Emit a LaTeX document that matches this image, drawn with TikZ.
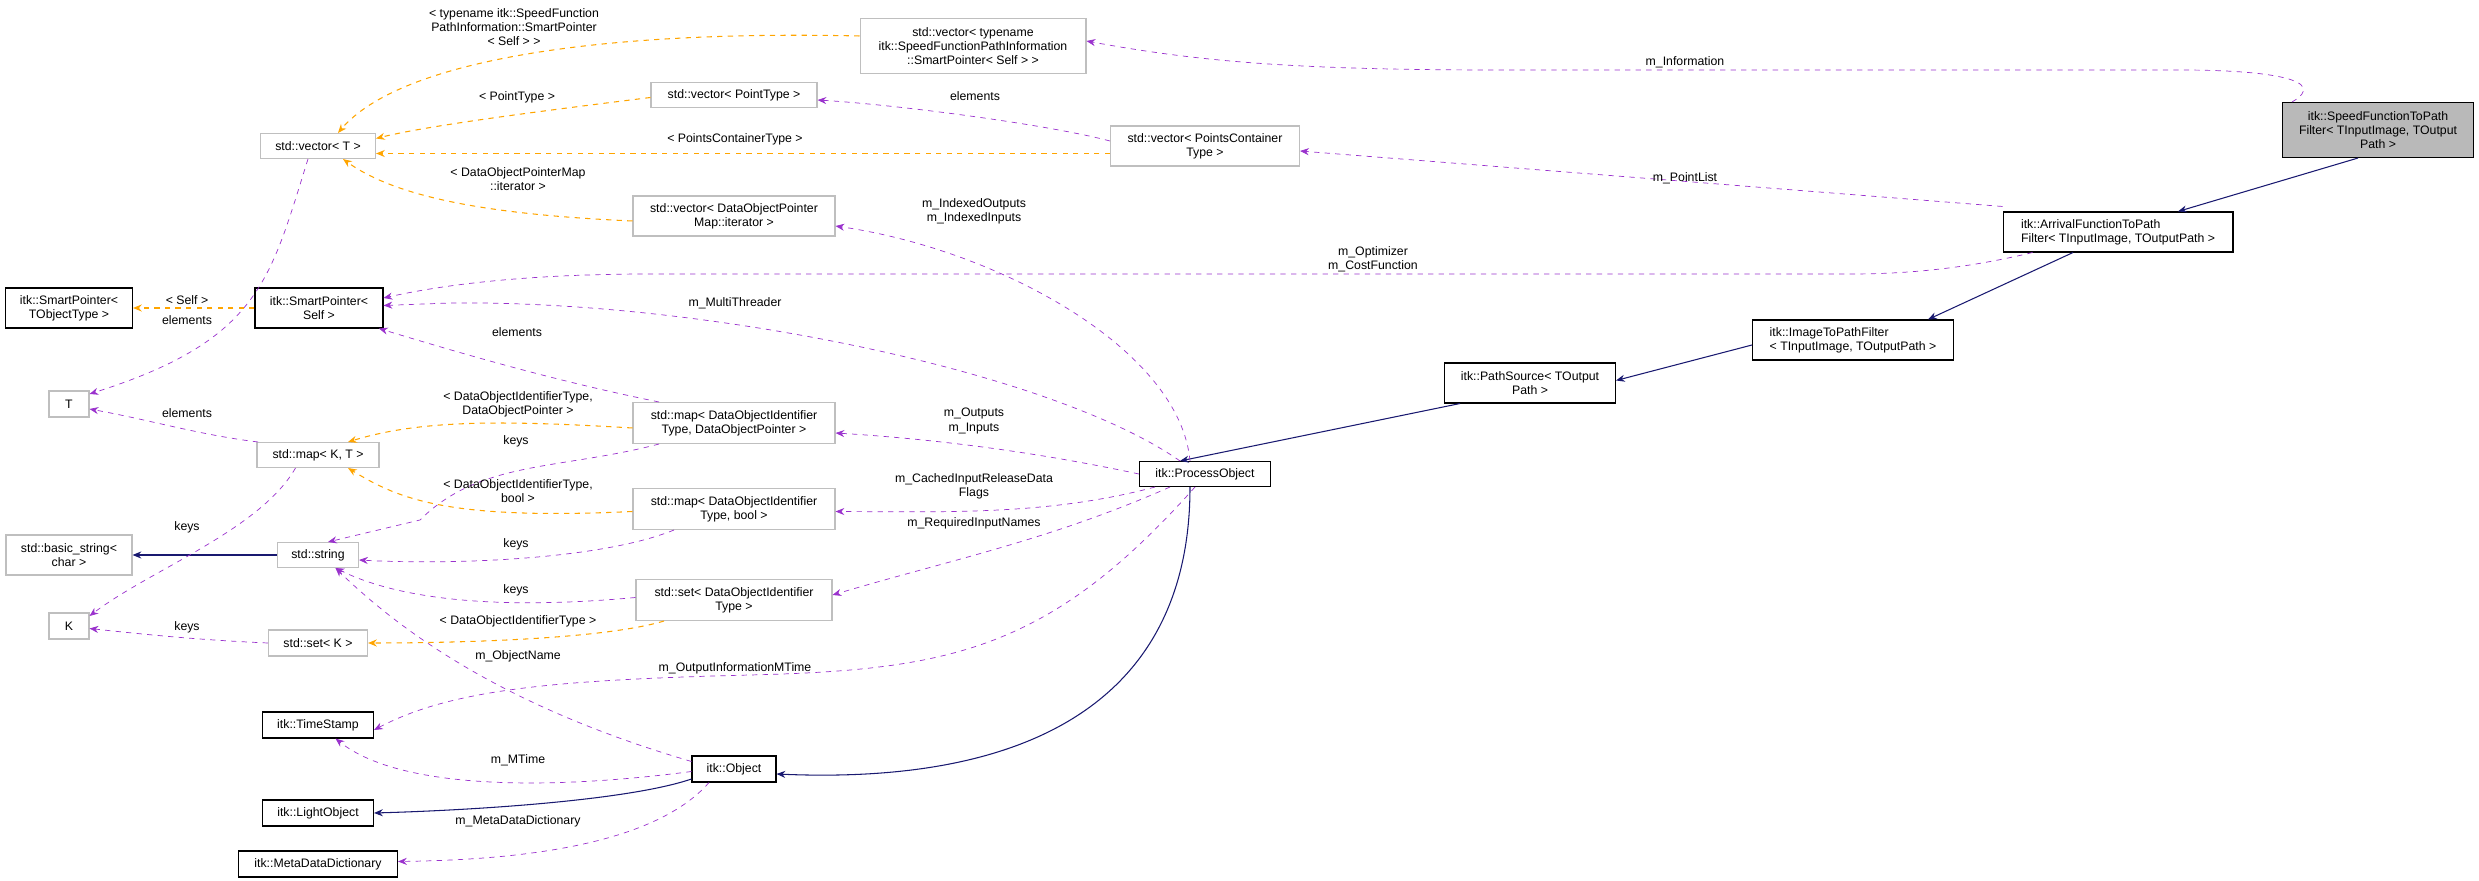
\documentclass[tikz,border=0pt]{standalone}
\usepackage{fontspec}
\setmainfont{Liberation Sans}
\usetikzlibrary{arrows.meta}
\definecolor{pur}{HTML}{9A32CD}
\definecolor{org}{HTML}{FFA500}
\definecolor{nav}{HTML}{191970}
\definecolor{gb}{HTML}{BFBFBF}
\begin{document}
\begin{tikzpicture}[x=0.02cm,y=-0.02cm,
  font=\fontsize{7}{8}\selectfont,
  box/.style={draw=black,line width=0.6pt,fill=white,inner sep=1pt,align=center},
  gbox/.style={draw=gb,line width=0.6pt,fill=white,inner sep=1pt,align=center},
  use/.style={draw=pur,dashed,-{Stealth[length=5pt,width=4pt]},fill=none},
  tpl/.style={draw=org,dashed,line width=0.6pt,-{Stealth[length=5pt,width=4pt]},fill=none},
  inh/.style={draw=nav,line width=0.6pt,-{Stealth[length=5pt,width=4pt]},fill=none},
  lbl/.style={align=center,inner sep=0pt}]
\useasboundingbox (0,0) rectangle (2479,881);
% nodes
\node[box,fill=gray!55,minimum width=3.82cm,minimum height=1.1cm] (speed) at (2378,130) {itk::SpeedFunctionToPath\\Filter< TInputImage, TOutput\\Path >};
\node[box,align=left,minimum width=4.6cm,minimum height=0.8cm] (arr) at (2118,232) {itk::ArrivalFunctionToPath\\Filter< TInputImage, TOutputPath >};
\node[box,align=left,minimum width=4.02cm,minimum height=0.8cm] (itp) at (1853,340) {itk::ImageToPathFilter\\< TInputImage, TOutputPath >};
\node[box,minimum width=3.42cm,minimum height=0.8cm] (ps) at (1530,383) {itk::PathSource< TOutput\\Path >};
\node[box,minimum width=2.62cm,minimum height=0.5cm] (po) at (1205,474) {itk::ProcessObject};
\node[gbox,minimum width=4.52cm,minimum height=1.1cm] (vinfo) at (973,46) {std::vector< typename\\itk::SpeedFunctionPathInformation\\::SmartPointer< Self > >};
\node[gbox,minimum width=3.32cm,minimum height=0.5cm] (vpt) at (734,95) {std::vector< PointType >};
\node[gbox,minimum width=2.3cm,minimum height=0.5cm] (vt) at (318,146) {std::vector< T >};
\node[gbox,minimum width=3.78cm,minimum height=0.8cm] (vpc) at (1205,146) {std::vector< PointsContainer\\Type >};
\node[gbox,minimum width=4.04cm,minimum height=0.8cm] (vdo) at (734,216) {std::vector< DataObjectPointer\\Map::iterator >};
\node[box,minimum width=2.54cm,minimum height=0.8cm] (spt) at (69,308) {itk::SmartPointer<\\TObjectType >};
\node[box,minimum width=2.56cm,minimum height=0.8cm] (sps) at (319,308) {itk::SmartPointer<\\Self >};
\node[gbox,minimum width=0.8cm,minimum height=0.52cm] (T) at (69,404) {T};
\node[gbox,minimum width=4.04cm,minimum height=0.82cm] (mdp) at (734,423) {std::map< DataObjectIdentifier\\Type, DataObjectPointer >};
\node[gbox,minimum width=2.44cm,minimum height=0.5cm] (mkt) at (318,455) {std::map< K, T >};
\node[gbox,minimum width=4.04cm,minimum height=0.82cm] (mb) at (734,509) {std::map< DataObjectIdentifier\\Type, bool >};
\node[gbox,minimum width=2.52cm,minimum height=0.8cm] (bs) at (69,555) {std::basic\_string<\\char >};
\node[gbox,minimum width=1.62cm,minimum height=0.5cm] (str) at (318,555) {std::string};
\node[gbox,minimum width=3.92cm,minimum height=0.82cm] (sdo) at (734,600) {std::set< DataObjectIdentifier\\Type >};
\node[gbox,minimum width=0.8cm,minimum height=0.52cm] (K) at (69,626) {K};
\node[gbox,minimum width=1.98cm,minimum height=0.52cm] (sk) at (318,643) {std::set< K >};
\node[box,minimum width=2.22cm,minimum height=0.52cm] (ts) at (318,725) {itk::TimeStamp};
\node[box,minimum width=1.68cm,minimum height=0.52cm] (obj) at (734,769) {itk::Object};
\node[box,minimum width=2.22cm,minimum height=0.52cm] (lo) at (318,813) {itk::LightObject};
\node[box,minimum width=3.18cm,minimum height=0.52cm] (md) at (318,864) {itk::MetaDataDictionary};
% inheritance
\draw[inh] ([xshift=-0.4cm]speed.south) -- ([xshift=1.2cm]arr.north);
\draw[inh] ([xshift=-0.9cm]arr.south) -- ([xshift=1.5cm]itp.north);
\draw[inh] ([yshift=-0.1cm]itp.west) -- ([yshift=0.05cm]ps.east);
\draw[inh] ([xshift=-1.4cm]ps.south) -- ([xshift=-0.5cm]po.north);
\draw[inh] ([xshift=-0.3cm]po.south) .. controls (1190,700) and (1030,785) .. ([yshift=-0.1cm]obj.east);
\draw[inh] ([yshift=-0.2cm]obj.west) .. controls (630,800) and (480,810) .. (lo.east);
\draw[inh] (str.west) -- (bs.east);
% usage
\draw[use] ([xshift=0.2cm]speed.north west) .. controls (2330,80) and (2270,70) .. (2180,70) -- (1500,70) .. controls (1300,70) and (1200,62) .. ([yshift=0.1cm]vinfo.east);
\node[lbl] at (1685,62) {m\_Information};
\draw[use] ([yshift=0.1cm]arr.north west) -- ([yshift=-0.1cm]vpc.east);
\node[lbl] at (1685,178) {m\_PointList};
\draw[use] ([xshift=0.6cm]arr.south west) .. controls (1960,270) and (1900,274) .. (1850,274) -- (650,274) .. controls (500,274) and (420,290) .. ([yshift=0.2cm]sps.east);
\node[lbl] at (1373,259) {m\_Optimizer\\m\_CostFunction};
\draw[use] ([yshift=0.1cm]vpc.west) .. controls (1050,125) and (900,105) .. ([yshift=-0.1cm]vpt.east);
\node[lbl] at (975,96) {elements};
\draw[use] ([xshift=-0.3cm]po.north) .. controls (1180,350) and (1000,250) .. ([yshift=-0.2cm]vdo.east);
\node[lbl] at (974,211) {m\_IndexedOutputs\\m\_IndexedInputs};
\draw[use] ([xshift=-0.5cm]po.north) .. controls (1050,370) and (700,300) .. (450,303) -- ([yshift=0.05cm]sps.east);
\node[lbl] at (735,303) {m\_MultiThreader};
\draw[use] (po.west) .. controls (1050,455) and (950,440) .. ([yshift=-0.2cm]mdp.east);
\node[lbl] at (974,421) {m\_Outputs\\m\_Inputs};
\draw[use] ([xshift=-1cm]po.south) .. controls (1050,515) and (950,512) .. ([yshift=-0.05cm]mb.east);
\node[lbl] at (974,486) {m\_CachedInputReleaseData\\Flags};
\draw[use] ([xshift=-0.7cm]po.south) .. controls (1050,540) and (950,560) .. ([yshift=0.1cm]sdo.east);
\node[lbl] at (974,523) {m\_RequiredInputNames};
\draw[use] ([xshift=-0.2cm]po.south) .. controls (1050,650) and (950,670) .. (750,675) .. controls (550,680) and (450,690) .. ([yshift=-0.1cm]ts.east);
\node[lbl] at (735,668) {m\_OutputInformationMTime};
\draw[use] ([xshift=-1.5cm]mdp.north) .. controls (550,380) and (450,350) .. ([xshift=1.2cm]sps.south);
\node[lbl] at (517,332) {elements};
\draw[use] ([xshift=-1.5cm]mdp.south) .. controls (560,470) and (480,460) .. (420,520) -- ([xshift=0.2cm]str.north);
\node[lbl] at (516,441) {keys};
\draw[use] ([xshift=-1.2cm]mb.south) .. controls (600,560) and (450,565) .. ([yshift=-0.1cm]str.east);
\node[lbl] at (516,544) {keys};
\draw[use] ([yshift=0.05cm]sdo.west) .. controls (500,610) and (400,600) .. ([xshift=0.35cm]str.south);
\node[lbl] at (516,590) {keys};
\draw[use] ([yshift=0.15cm]obj.west) .. controls (550,720) and (430,660) .. ([xshift=0.35cm]str.south);
\node[lbl] at (518,656) {m\_ObjectName};
\draw[use] ([yshift=-0.05cm]obj.west) .. controls (550,790) and (400,790) .. ([xshift=0.35cm]ts.south);
\node[lbl] at (518,760) {m\_MTime};
\draw[use] ([xshift=-0.5cm]obj.south) .. controls (650,850) and (500,860) .. ([yshift=0.05cm]md.east);
\node[lbl] at (518,821) {m\_MetaDataDictionary};
\draw[use] ([xshift=-0.2cm]vt.south) .. controls (270,280) and (260,340) .. ([yshift=0.2cm]T.east);
\node[lbl] at (187,320) {elements};
\draw[use] ([xshift=-1.2cm]mkt.north) .. controls (200,435) and (150,420) .. ([yshift=-0.1cm]T.east);
\node[lbl] at (187,413) {elements};
\draw[use] ([xshift=-0.45cm]mkt.south) .. controls (260,530) and (150,570) .. ([yshift=0.2cm]K.east);
\node[lbl] at (187,527) {keys};
\draw[use] (sk.west) .. controls (200,640) and (150,635) .. ([yshift=-0.05cm]K.east);
\node[lbl] at (187,627) {keys};
% templates
\draw[tpl] ([yshift=0.2cm]vinfo.west) .. controls (600,30) and (400,60) .. ([xshift=0.4cm]vt.north);
\node[lbl] at (514,27) {< typename itk::SpeedFunction\\PathInformation::SmartPointer\\< Self > >};
\draw[tpl] ([yshift=-0.05cm]vpt.west) .. controls (550,110) and (430,125) .. ([yshift=0.15cm]vt.east);
\node[lbl] at (517,97) {< PointType >};
\draw[tpl] ([yshift=-0.15cm]vpc.west) -- ([yshift=-0.15cm]vt.east);
\node[lbl] at (735,139) {< PointsContainerType >};
\draw[tpl] ([yshift=-0.1cm]vdo.west) .. controls (500,215) and (400,200) .. ([xshift=0.5cm]vt.south);
\node[lbl] at (518,179) {< DataObjectPointerMap\\::iterator >};
\draw[tpl] ([yshift=-0.1cm]mdp.west) .. controls (500,420) and (420,420) .. ([xshift=0.6cm]mkt.north);
\node[lbl] at (518,404) {< DataObjectIdentifierType,\\DataObjectPointer >};
\draw[tpl] ([yshift=-0.05cm]mb.west) .. controls (450,520) and (400,500) .. ([xshift=0.6cm]mkt.south);
\node[lbl] at (518,491) {< DataObjectIdentifierType,\\bool >};
\draw[tpl] ([xshift=-1.4cm]sdo.south) .. controls (600,640) and (450,643) .. (sk.east);
\node[lbl] at (518,621) {< DataObjectIdentifierType >};
\draw[tpl] (sps.west) -- (spt.east);
\node[lbl] at (187,300) {< Self >};
\end{tikzpicture}
\end{document}
